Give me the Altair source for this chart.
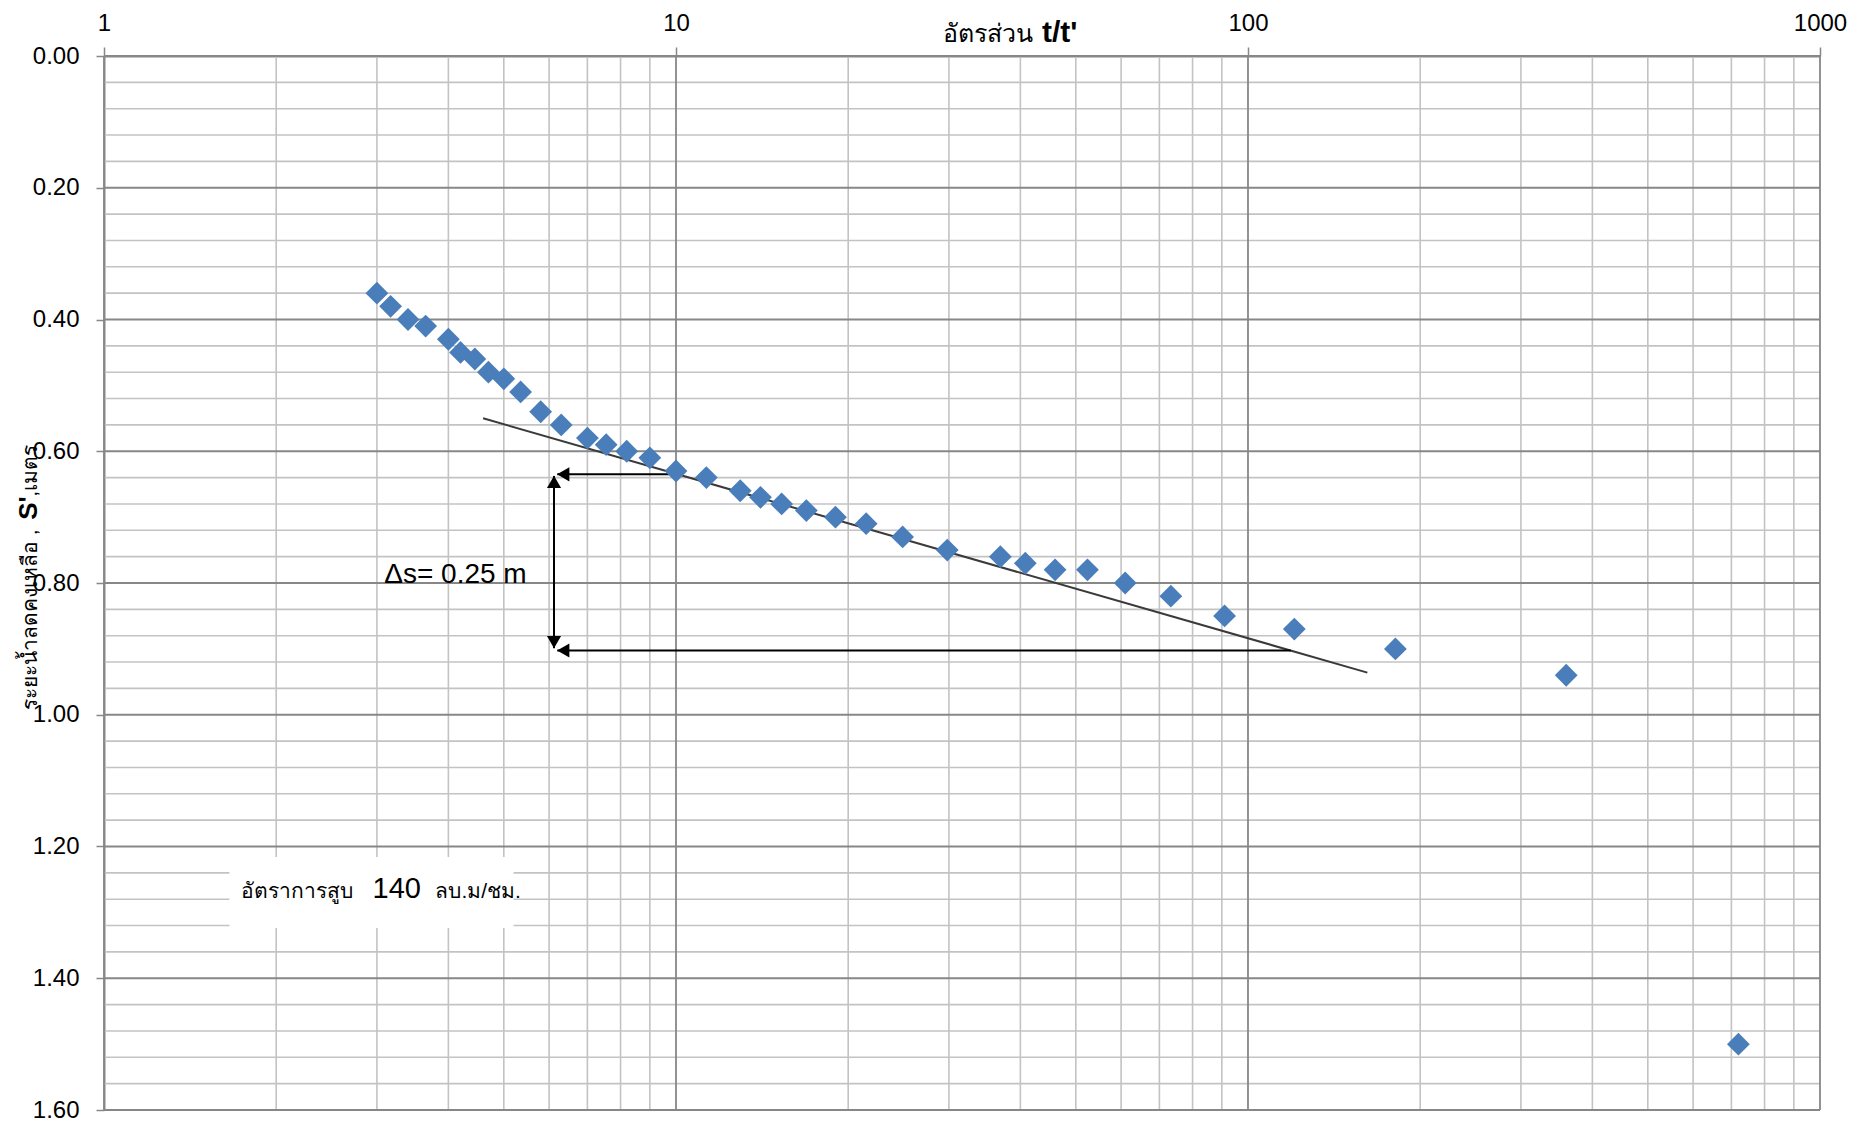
import altair as alt
import pandas as pd

# ---------------- data ----------------
ratio_t = [3.0, 3.17, 3.4, 3.65, 4.0, 4.2, 4.45, 4.7, 5.0, 5.35,
           5.8, 6.3, 7.0, 7.55, 8.2, 9.0, 10.0, 11.3, 12.95, 14.05,
           15.3, 16.9, 19.0, 21.5, 24.9, 29.8, 36.9, 40.8, 46.0, 52.4,
           61.0, 73.3, 91.0, 120.5, 181.0, 360.0, 720.0]
residual_s = [0.36, 0.38, 0.40, 0.41, 0.43, 0.45, 0.46, 0.48, 0.49, 0.51,
              0.54, 0.56, 0.58, 0.59, 0.60, 0.61, 0.63, 0.64, 0.66, 0.67,
              0.68, 0.69, 0.70, 0.71, 0.73, 0.75, 0.76, 0.77, 0.78, 0.78,
              0.80, 0.82, 0.85, 0.87, 0.90, 0.94, 1.50]

# straight-line fit drawn on the chart
fit_x = [4.60, 161.7]
fit_y = [0.550, 0.936]

# delta-s construction arrows
harrow_from_x = [10.0, 118.8]
harrow_to_x = [6.2, 6.2]
harrow_y = [0.635, 0.9025]
varrow_x = [6.12]
varrow_y1 = [0.6375]
varrow_y2 = [0.899]

# tick / grid values
x_major = [1, 10, 100, 1000]
x_minor = [m * d for d in (1, 10, 100) for m in range(2, 10)]
y_major = [0.0, 0.2, 0.4, 0.6, 0.8, 1.0, 1.2, 1.4, 1.6]
y_minor = [round(i * 0.04, 2) for i in range(1, 40) if i % 5 != 0]

# annotation texts
x_title_parts = ["อัตรส่วน", "t/t'"]
y_title_parts = ["ระยะน้ำลดคงเหลือ ,", "S'", ",เมตร"]
delta_label = ["Δs= 0.25 m"]
rate_parts = ["อัตราการสูบ", "140", "ลบ.ม/ชม."]

# annotation anchors (data units)
delta_anchor = {"x": 3.09, "y": 0.80}
rate_box = {"x": 1.657, "x2": 5.20, "y": 1.216, "y2": 1.3237}
rate_anchor_x = [2.72, 2.948, 3.797]
rate_anchor_y = 1.278

# ---------------- chart ----------------
FONT = "Liberation Sans, Noto Sans, sans-serif"
GRID_MAJOR = "#878787"
GRID_MINOR = "#c3c3c3"

xs = alt.Scale(type="log", domain=[1, 1000], nice=False)
ys = alt.Scale(domain=[0, 1.6], reverse=True, nice=False, zero=False)

x_axis = alt.Axis(orient="top", values=x_major, format="d", grid=False,
                  domainColor=GRID_MAJOR, domainWidth=2, tickColor=GRID_MAJOR,
                  tickWidth=1.5, tickSize=9, labelFont=FONT, labelFontSize=24,
                  labelColor="#000000", labelBaseline="alphabetic",
                  labelPadding=17, labelFlush=False, labelOverlap=False, title=None)
y_axis = alt.Axis(orient="left", values=y_major, format=".2f", grid=False,
                  domainColor=GRID_MAJOR, domainWidth=2, tickColor=GRID_MAJOR,
                  tickWidth=1.5, tickSize=8, labelFont=FONT, labelFontSize=24,
                  labelColor="#000000", labelPadding=17, labelFlush=False,
                  labelOverlap=False, title=None)


def X(field):
    return alt.X(field, scale=xs, axis=x_axis)


def Y(field):
    return alt.Y(field, scale=ys, axis=y_axis)


df_xminor = pd.DataFrame({"v": x_minor})
df_yminor = pd.DataFrame({"v": y_minor})
df_xmajor = pd.DataFrame({"v": x_major})
df_ymajor = pd.DataFrame({"v": y_major})

grid_y_minor = alt.Chart(df_yminor).mark_rule(color=GRID_MINOR, strokeWidth=1.6).encode(
    y=Y("v:Q"))
grid_x_minor = alt.Chart(df_xminor).mark_rule(color=GRID_MINOR, strokeWidth=1.6).encode(
    x=X("v:Q"))
grid_y_major = alt.Chart(df_ymajor).mark_rule(color=GRID_MAJOR, strokeWidth=1.8).encode(
    y=Y("v:Q"))
grid_x_major = alt.Chart(df_xmajor).mark_rule(color=GRID_MAJOR, strokeWidth=1.8).encode(
    x=X("v:Q"))

# white box behind the pumping-rate note
df_box = pd.DataFrame([rate_box])
box = alt.Chart(df_box).mark_rect(color="white").encode(
    x=X("x:Q"), x2="x2:Q", y=Y("y:Q"), y2="y2:Q")

df_rate = pd.DataFrame({"t": rate_parts, "x": rate_anchor_x,
                        "y": [rate_anchor_y] * 3})
rate_a = alt.Chart(df_rate.iloc[[0]]).mark_text(
    font=FONT, fontSize=21, align="right", baseline="alphabetic", color="#000000").encode(
    x=X("x:Q"), y=Y("y:Q"), text="t:N")
rate_b = alt.Chart(df_rate.iloc[[1]]).mark_text(
    font=FONT, fontSize=29, align="left", baseline="alphabetic", color="#000000").encode(
    x=X("x:Q"), y=Y("y:Q"), text="t:N")
rate_c = alt.Chart(df_rate.iloc[[2]]).mark_text(
    font=FONT, fontSize=21, align="left", baseline="alphabetic", color="#000000").encode(
    x=X("x:Q"), y=Y("y:Q"), text="t:N")

# fitted line
df_fit = pd.DataFrame({"x": fit_x, "y": fit_y})
fit = alt.Chart(df_fit).mark_line(color="#3a3a3a", strokeWidth=2).encode(
    x=X("x:Q"), y=Y("y:Q"))

# arrows
df_h = pd.DataFrame({"x": harrow_from_x, "x2": harrow_to_x, "y": harrow_y})
h_shafts = alt.Chart(df_h).mark_rule(color="#000000", strokeWidth=2).encode(
    x=X("x:Q"), x2="x2:Q", y=Y("y:Q"))
h_heads = alt.Chart(df_h).mark_point(shape="triangle-left", filled=True, size=200,
                                     color="#000000", opacity=1, xOffset=6).encode(
    x=X("x2:Q"), y=Y("y:Q"))
df_v = pd.DataFrame({"x": varrow_x, "y": varrow_y1, "y2": varrow_y2})
v_shaft = alt.Chart(df_v).mark_rule(color="#000000", strokeWidth=2).encode(
    x=X("x:Q"), y=Y("y:Q"), y2="y2:Q")
v_head_up = alt.Chart(df_v).mark_point(shape="triangle-up", filled=True, size=200,
                                       color="#000000", opacity=1, yOffset=6).encode(
    x=X("x:Q"), y=Y("y:Q"))
v_head_down = alt.Chart(df_v).mark_point(shape="triangle-down", filled=True, size=200,
                                         color="#000000", opacity=1, yOffset=-6).encode(
    x=X("x:Q"), y=Y("y2:Q"))

df_delta = pd.DataFrame({"t": delta_label, "x": [delta_anchor["x"]], "y": [delta_anchor["y"]]})
delta_text = alt.Chart(df_delta).mark_text(
    font=FONT, fontSize=28, align="left", baseline="alphabetic", color="#000000").encode(
    x=X("x:Q"), y=Y("y:Q"), text="t:N")

# data points
df_pts = pd.DataFrame({"ratio": ratio_t, "s": residual_s})
points = alt.Chart(df_pts).mark_point(shape="diamond", filled=True, size=520,
                                      color="#4a7ebb", opacity=1).encode(
    x=X("ratio:Q"), y=Y("s:Q"))

# x-axis title (two styles)
df_xt = pd.DataFrame({"t": x_title_parts})
xt_a = alt.Chart(df_xt.iloc[[0]]).mark_text(
    font=FONT, fontSize=25, align="right", baseline="alphabetic", color="#000000").encode(
    x=alt.value(929), y=alt.value(-14), text="t:N")
xt_b = alt.Chart(df_xt.iloc[[1]]).mark_text(
    font=FONT, fontSize=30, fontWeight="bold", align="left", baseline="alphabetic",
    color="#000000").encode(x=alt.value(938), y=alt.value(-14), text="t:N")

# y-axis title (rotated, three styles)
df_yt = pd.DataFrame({"t": y_title_parts})
yt_a = alt.Chart(df_yt.iloc[[0]]).mark_text(
    font=FONT, fontSize=21, angle=270, align="left", baseline="alphabetic",
    color="#000000").encode(x=alt.value(-67), y=alt.value(654), text="t:N")
yt_b = alt.Chart(df_yt.iloc[[1]]).mark_text(
    font=FONT, fontSize=26, fontWeight="bold", angle=270, align="center",
    baseline="alphabetic", color="#000000").encode(
    x=alt.value(-67), y=alt.value(452), text="t:N")
yt_c = alt.Chart(df_yt.iloc[[2]]).mark_text(
    font=FONT, fontSize=21, angle=270, align="right", baseline="alphabetic",
    color="#000000").encode(x=alt.value(-67), y=alt.value(389), text="t:N")

chart = alt.layer(
    grid_y_minor, grid_x_minor, grid_y_major, grid_x_major,
    box, rate_a, rate_b, rate_c,
    fit, h_shafts, v_shaft, h_heads, v_head_up, v_head_down, delta_text,
    points, xt_a, xt_b, yt_a, yt_b, yt_c,
).properties(
    width=1716, height=1054,
    autosize="none",
    padding={"left": 104, "top": 56, "right": 45, "bottom": 14},
    background="white",
).configure_view(stroke=None)

chart.save("out.html", embed_options={"renderer": "svg", "actions": False})
